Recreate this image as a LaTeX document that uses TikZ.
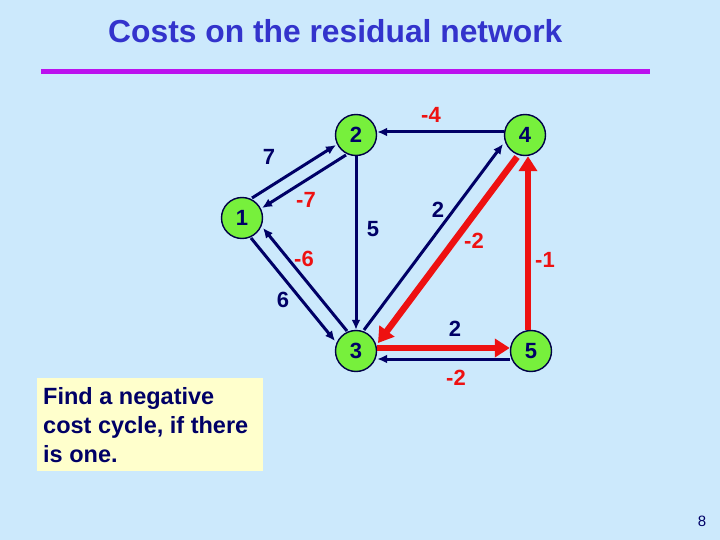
\documentclass[tikz,border=0pt]{standalone}
\usepackage{fontspec}
\setmainfont{Liberation Sans}
\usetikzlibrary{arrows.meta}
\definecolor{bg}{HTML}{CCE9FC}
\definecolor{navy}{HTML}{000066}
\definecolor{redc}{HTML}{EE1111}
\definecolor{titleblue}{HTML}{3333CC}
\definecolor{purp}{HTML}{BB11EE}
\definecolor{nodegreen}{HTML}{77F03C}
\definecolor{boxyellow}{HTML}{FFFFCC}
\tikzset{
  vtx/.style={circle, draw=navy!70!black, line width=1.4pt, fill=nodegreen, minimum size=41pt, inner sep=0pt, font=\bfseries\fontsize{22}{24}\selectfont, text=navy},
  thin/.style={draw=navy, line width=3pt, -{Latex[length=10pt,width=9pt]}},
  thick/.style={draw=redc, line width=6.5pt, -{Triangle[length=15pt,width=18pt]}},
  blab/.style={font=\bfseries\fontsize{22}{24}\selectfont, text=navy},
  rlab/.style={font=\bfseries\fontsize{22}{24}\selectfont, text=redc},
  boxtxt/.style={anchor=base west, text=navy, font=\bfseries\fontsize{23.5}{28}\selectfont, inner sep=0pt},
}
\begin{document}
\begin{tikzpicture}[x=1pt,y=-1pt]
\fill[bg] (0,0) rectangle (720,540);
\useasboundingbox (0,0) rectangle (720,540);
\node[font=\bfseries\fontsize{31.8}{36}\selectfont, text=titleblue, anchor=base west, inner sep=0pt] (title) at (108,43) {Costs on the residual network};
\coordinate (tla) at (41,72);
\coordinate (tlb) at (650,72);
\draw[purp, line width=5pt] (tla) -- (tlb);

\node[vtx] (n1) at (242,218) {1};
\node[vtx] (n2) at (356,135) {2};
\node[vtx] (n4) at (525,135) {4};
\node[vtx] (n3) at (356,351) {3};
\node[vtx] (n5) at (531,351) {5};

% 1-2 pair
\draw[thin] ([shift={(-5,-5)}]n1.45) -- ([shift={(-5,-5)}]n2.225);
\draw[thin] ([shift={(5,5)}]n2.225) -- ([shift={(5,5)}]n1.45);
% 1-3 pair
\draw[thin] ([shift={(-6,5)}]n1.-45) -- ([shift={(-6,5)}]n3.135);
\draw[thin] ([shift={(6,-5)}]n3.135) -- ([shift={(6,-5)}]n1.-45);
% 2-3
\draw[thin] (n2) -- (n3);
% 4-2
\draw[thin] ([yshift=3pt]n4.west) -- ([yshift=3pt]n2.east);
% 3-4 thin
\draw[thin] ([shift={(-7,-6)}]n3.45) -- ([shift={(-7,-6)}]n4.225);
% 4-3 thick red
\draw[thick] ([shift={(7,7)}]n4.225) -- ([shift={(7,7)}]n3.45);
% 5-4 thick red
\draw[thick] ([xshift=-3pt]n5.north) -- ([xshift=3pt]n4.south);
% 3-5 thick red
\draw[thick] ([yshift=3pt]n3.east) -- ([yshift=3pt]n5.west);
% 5-3 thin
\draw[thin] ([yshift=-8pt]n5.west) -- ([yshift=-8pt]n3.east);

\node[blab] (l7) at (269,157) {7};
\node[rlab] (lm7) at (306,200) {-7};
\node[blab] (l5) at (373,229) {5};
\node[rlab] (lm4) at (431,115) {-4};
\node[blab] (l2a) at (438,210) {2};
\node[rlab] (lm2a) at (474,241) {-2};
\node[rlab] (lm1) at (545,260) {-1};
\node[rlab] (lm6) at (304,259) {-6};
\node[blab] (l6) at (283,300) {6};
\node[blab] (l2b) at (455,329) {2};
\node[rlab] (lm2b) at (456,378) {-2};

\fill[boxyellow] (37,378) rectangle (263,471);
\node[boxtxt] (bx1) at (43,404) {Find a negative};
\node[boxtxt] (bx2) at (43,433) {cost cycle, if there};
\node[boxtxt] (bx3) at (43,462) {is one.};
\node[text=navy, font=\fontsize{15}{17}\selectfont] (pg) at (702,521) {8};
\end{tikzpicture}
\end{document}
